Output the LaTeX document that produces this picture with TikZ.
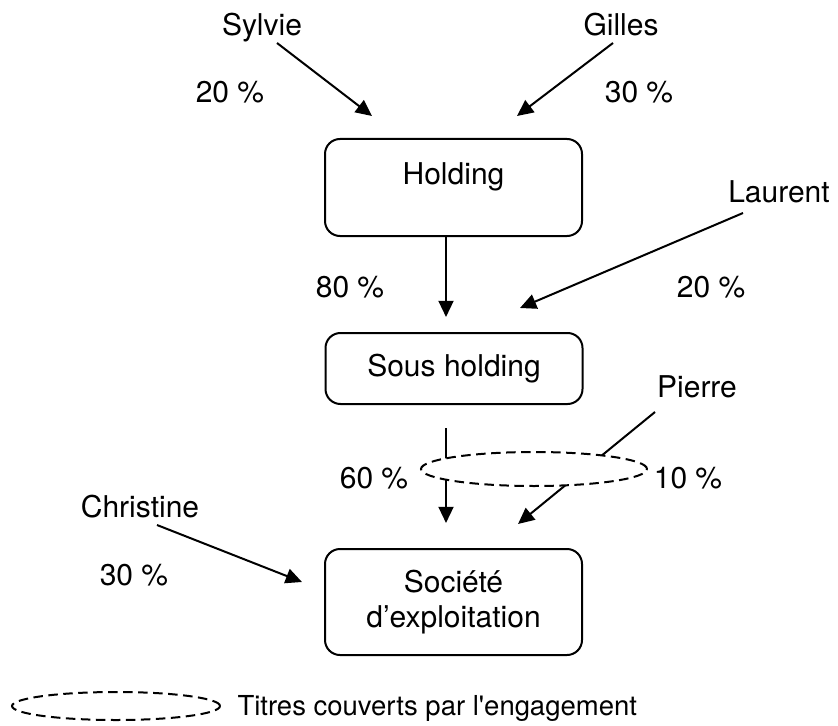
\documentclass[tikz,border=0pt]{standalone}
\usepackage{fontspec}
\setmainfont{TeX Gyre Heros}
\usetikzlibrary{arrows.meta,shapes.geometric}

\tikzset{
    societe/.style={draw, line width=0.8pt, rounded corners=6pt, minimum width=102.8pt, align=center},
    fleche/.style={line width=0.8pt, -{Triangle[length=6.5pt,width=6pt]}},
    titres/.style={draw, ellipse, dash pattern=on 3.8pt off 2.2pt, line width=0.8pt, fill=white, inner sep=0pt},
    nom/.style={anchor=base},
}

\begin{document}
\begin{tikzpicture}[x=0.4pt, y=-0.4pt, font=\fontsize{12}{14}\selectfont]
    \useasboundingbox (0,0) rectangle (838,725);

    % les societes
    \node[societe, minimum height=38.8pt] (holding) at (453.5,187.5) {};
    \node[nom] (tholding) at (453.5,185) {Holding};
    \node[societe, minimum height=28.4pt] (sousholding) at (454,368.5) {Sous holding};
    \node[societe, minimum height=42.4pt] (exploitation) at (453.5,602) {Société\\d’exploitation};

    % les associes
    \node[nom] (sylvie) at (262,36) {Sylvie};
    \node[nom] (gilles) at (621,36) {Gilles};
    \node[nom] (laurent) at (779,203) {Laurent};
    \node[nom] (pierre) at (697,397) {Pierre};
    \node[nom] (christine) at (140,517) {Christine};

    % les parts
    \node[nom] (psylvie) at (230,103) {20 \%};
    \node[nom] (pgilles) at (639,103) {30 \%};
    \node[nom] (pholding) at (350,297) {80 \%};
    \node[nom] (plaurent) at (711,297) {20 \%};
    \node[nom] (psous) at (374,488) {60 \%};
    \node[nom] (ppierre) at (688,488) {10 \%};
    \node[nom] (pchristine) at (134,585) {30 \%};

    \coordinate (sy1) at (277,43);   \coordinate (sy2) at (372,116);
    \coordinate (gi1) at (613,43);   \coordinate (gi2) at (517,116);
    \coordinate (ho1) at (446,236);  \coordinate (ho2) at (446,317);
    \coordinate (la1) at (743,213);  \coordinate (la2) at (520,308);
    \coordinate (so1) at (446,428);  \coordinate (so2) at (446,523);
    \coordinate (pi1) at (655,412);  \coordinate (pi2) at (518,524);
    \coordinate (ch1) at (157,525);  \coordinate (ch2) at (302,582);

    \draw[fleche] (sy1) -- (sy2);
    \draw[fleche] (gi1) -- (gi2);
    \draw[fleche] (ho1) -- (ho2);
    \draw[fleche] (la1) -- (la2);
    \draw[fleche] (so1) -- (so2);
    \draw[fleche] (pi1) -- (pi2);
    \draw[fleche] (ch1) -- (ch2);

    % titres couverts
    \node[titres, minimum width=90.4pt, minimum height=13.6pt] (engagement) at (534,469) {};

    % legende
    \node[titres, minimum width=83.2pt, minimum height=11.2pt] (lellipse) at (116,706) {};
    \node[anchor=base west, inner sep=0pt, font=\fontsize{11}{13}\selectfont] (legende) at (237,715) {Titres couverts par l\textquotesingle engagement};
\end{tikzpicture}
\end{document}
